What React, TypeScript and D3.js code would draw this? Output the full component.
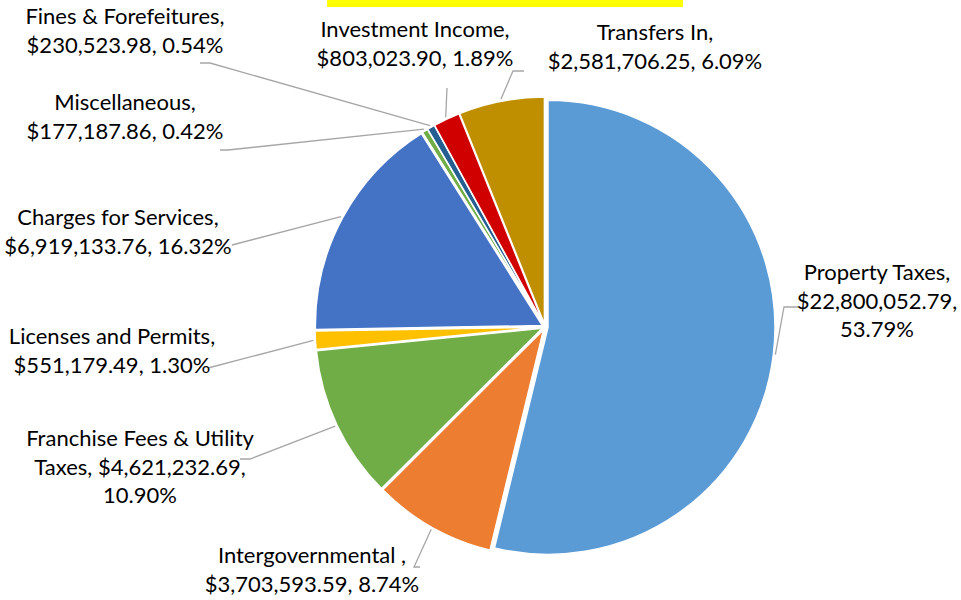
import React from "react";
import * as d3 from "d3";

const categories = [
  "Property Taxes",
  "Intergovernmental ",
  "Franchise Fees & Utility Taxes",
  "Licenses and Permits",
  "Charges for Services",
  "Miscellaneous",
  "Fines & Forefeitures",
  "Investment Income",
  "Transfers In",
];
const values = [
  22800052.79, 3703593.59, 4621232.69, 551179.49, 6919133.76, 177187.86,
  230523.98, 803023.9, 2581706.25,
];
const percents = ["53.79%", "8.74%", "10.90%", "1.30%", "16.32%", "0.42%", "0.54%", "1.89%", "6.09%"];
const labelLines = [
  ["Property Taxes,", "$22,800,052.79,", "53.79%"],
  ["Intergovernmental ,", "$3,703,593.59, 8.74%"],
  ["Franchise Fees & Utility", "Taxes, $4,621,232.69,", "10.90%"],
  ["Licenses and Permits,", "$551,179.49, 1.30%"],
  ["Charges for Services,", "$6,919,133.76, 16.32%"],
  ["Miscellaneous,", "$177,187.86, 0.42%"],
  ["Fines & Forefeitures,", "$230,523.98, 0.54%"],
  ["Investment Income,", "$803,023.90, 1.89%"],
  ["Transfers In,", "$2,581,706.25, 6.09%"],
];
const colors = ["#5B9BD5", "#ED7D31", "#70AD47", "#FFC000", "#4472C4", "#70AD47", "#255E91", "#D00000", "#BF8F00"];

// layout: label centre x, first-line baseline y, leader path start (label side)
const labelPos: { x: number; y: number; lx: number; ly: number; hx: number }[] = [
  { x: 877, y: 280, lx: 798, ly: 307, hx: 784 },
  { x: 312, y: 563, lx: 420, ly: 567, hx: 414 },
  { x: 140, y: 446, lx: 240, ly: 459, hx: 250 },
  { x: 112, y: 344, lx: 208, ly: 368, hx: 208 },
  { x: 118, y: 225, lx: 232, ly: 245, hx: 232 },
  { x: 125, y: 110, lx: 220, ly: 150, hx: 228 },
  { x: 125, y: 24, lx: 200, ly: 63, hx: 210 },
  { x: 415, y: 37, lx: 447, ly: 88, hx: 447 },
  { x: 655, y: 40, lx: 524, ly: 71, hx: 513 },
];

export default function App() {
  const W = 961, H = 600;
  const cx = 545, cy = 327, r = 227, explode = 3;
  const data = categories.map((c, i) => ({ c, v: values[i], i }));
  const pie = d3.pie<any>().value((d) => d.v).sort(null);
  const arcs = pie(data);
  const arc = d3.arc<any>().innerRadius(0).outerRadius(r);
  const lineH = 28.5;
  return (
    <svg width={W} height={H} style={{ position: "absolute", left: 0, top: 0 }}>
      <rect x={0} y={0} width={W} height={H} fill="#fff" />
      <rect x={327} y={0} width={356} height={7} fill="#FFFF00" />
      <g transform={`translate(${cx},${cy})`}>
        {arcs.map((a, i) => {
          const mid = (a.startAngle + a.endAngle) / 2;
          const dx = Math.sin(mid) * explode, dy = -Math.cos(mid) * explode;
          return (
            <path key={i} d={arc(a) || ""} transform={`translate(${dx},${dy})`} fill={colors[i]} stroke="#fff" strokeWidth={1.5} />
          );
        })}
      </g>
      {arcs.map((a, i) => {
        const mid = (a.startAngle + a.endAngle) / 2;
        const rr = r + explode + 2;
        const ex = cx + Math.sin(mid) * rr, ey = cy - Math.cos(mid) * rr;
        const p = labelPos[i];
        return (
          <polyline key={"l" + i} points={`${p.lx},${p.ly} ${p.hx},${p.ly} ${ex},${ey}`} fill="none" stroke="#A6A6A6" strokeWidth={1.3} />
        );
      })}
      {labelLines.map((lines, i) => (
        <text key={"t" + i} x={labelPos[i].x} y={labelPos[i].y} textAnchor="middle" fontFamily="Lato, 'Open Sans', sans-serif" fontSize={22} fill="#000">
          {lines.map((s, j) => (
            <tspan key={j} x={labelPos[i].x} y={labelPos[i].y + j * lineH}>{s}</tspan>
          ))}
        </text>
      ))}
    </svg>
  );
}
